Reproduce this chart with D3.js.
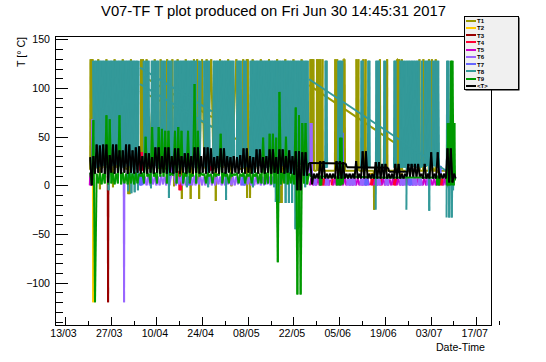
<!DOCTYPE html>
<html lang="en">
<head>
<meta charset="UTF-8">
<title>V07-TF T plot</title>
<script src="https://d3js.org/d3.v7.min.js"></script>
<style>
    body { margin: 0; background: #fff; }
    text { font-family: "Liberation Sans", Arial, sans-serif; fill: #000; }
    .axis path, .axis line { stroke: #000; shape-rendering: crispEdges; }
    .axis .domain { display: none; }
    .trace line { stroke-width: 2; stroke-linecap: butt; }
</style>
</head>
<body>
<script>
// time in days since 10/03/2017 00:00 (UTC); values in deg C
// a path is either [tStart, tStep, [values...]] or [[t, v], [t, v], ...]

const seriesNames  = ["T1", "T2", "T3", "T4", "T5", "T6", "T7", "T8", "T9", "<T>"];
const seriesColors = ["#999900", "#ffcc00", "#990000", "#ff0033", "#cc00cc", "#9966ff", "#6666ff", "#339999", "#009900", "#000000"];

const dateTicks = ["2017-03-13", "2017-03-27", "2017-04-10", "2017-04-24", "2017-05-08",
                   "2017-05-22", "2017-06-05", "2017-06-19", "2017-07-03", "2017-07-17"];
const valueTicks = [-100, -50, 0, 50, 100, 150];

const t1Paths = [
    [[10.7,16],[10.85,129.5],[11.0,17],[11.15,129.5],[11.3,16],[11.45,129.5],[11.6,18],
     [12.4,17],[13.2,129.5],[13.6,17],[13.7,-4],[13.8,17],[14.5,18],[15.7,129.5],[16.5,17],
     [17.6,17],[17.7,-2],[17.8,17],[18.2,129.5],[19.0,18],[20.7,129.5],[21.5,17],
     [22.3,17],[22.4,-9],[22.6,17],[22.8,-9],[22.9,17],[23.2,129.5],[24.0,18],[25.0,17],
     [26.2,17],[26.3,129.5],[26.6,20],[26.9,129.5],[27.0,18],[28.0,129.5],[28.7,17],
     [30.5,129.5],[31.2,18],[32.2,18],[32.3,129.5],[32.4,18],[34.2,17],[34.3,129.5],[34.4,17],
     [35.8,18],[35.9,129.5],[36.0,18],[36.3,18],[36.4,-1],[36.5,18],[37.5,129.5],[38.3,18],
     [38.7,18],[38.8,-14],[38.9,18],[40.0,129.5],[40.8,18],[41.4,18],[41.5,-14],[41.6,18],
     [42.5,129.5],[43.4,18],[43.5,129.5],[43.6,18],[44.0,18],[44.1,-14],[44.2,18],[45.0,129.5],
     [45.7,18],[46.3,18],[46.4,129.5],[46.5,18],[47.8,129.5],[48.5,18],[49.1,18],[49.2,-16],
     [49.3,18],[50.5,129.5],[51.3,18],[53.0,129.5],[53.9,18],[54.0,-1],[54.1,18],[55.5,129.5],
     [56.3,17],[57.5,17],[57.6,129.5],[57.7,18],[58.6,18],[58.7,129.5],[58.8,-13],[59.0,129.5],
     [59.2,18],[59.6,18],[59.7,-13],[59.8,18],[60.5,129.5],[61.3,17],[63.0,129.5],[63.8,18],
     [65.5,129.5],[66.3,17],[68.0,129.5],[68.8,18],[68.9,-18],[69.2,18],[69.4,-18],[69.5,18],
     [70.5,129.5],[71.3,17],[73.0,129.5],[73.8,18],[75.5,129.5],[76.3,17],[77.5,17]],
    [[78.1,15],[78.2,129.5],[78.35,15],[78.5,129.5],[78.65,15],[78.8,129.5],[78.95,15],[79.1,129.5],
     [79.3,15],[80.1,15],[80.2,129.5],[80.45,15],[80.7,129.5],[80.8,15],[81.1,15],[81.2,129.5],
     [81.5,15],[81.9,129.5],[82.0,15],[85.7,15],[85.8,129.5],[86.1,15],[86.4,129.5],[86.6,15],
     [88.2,15],[88.3,129.5],[88.7,129.5],[88.8,15],[92.2,15],[92.3,129.5],[92.6,15],[92.9,129.5],
     [93.0,15],[94.3,15],[94.4,129.5],[94.8,15],[95.1,129.5],[95.2,15],[97.6,15],[97.7,-25],
     [97.8,15],[99.4,15],[99.5,129.5],[99.6,15],[101.6,15],[101.7,129.5],[101.8,15],[104.6,15],
     [104.7,129.5],[105.0,129.5],[105.1,15],[105.4,129.5],[105.8,15],[106.2,129.5],[106.3,15],
     [111.5,15],[111.6,129.5],[111.7,15],[112.7,15],[112.8,129.5],[112.9,15],[114.4,15],
     [114.5,129.5],[114.6,15],[115.3,15],[115.4,129.5],[115.5,15],[116.5,15],[116.6,129.5],
     [116.7,15],[120.2,15],[120.3,-2],[120.4,15]],
    [[26, 114], [48, 70]],
    [[26, 97], [60, 40]],
    [[77.8, 103], [118, 12]]
];

const t2Paths = [
    [[11.55,15],[11.65,-120],[11.75,15]],
    [[96.3,12],[97.8,12]],
    [[105.6,11.5],[106.6,11.5]]
];

const t3Paths = [
    [[16.1,10],[16.2,-120],[16.3,10]]
];

const t4Paths = [
    [[25.9,15],[26.1,34],[26.4,15],[26.7,34],[26.9,15]],
    [[37.9,15],[38.1,-5],[38.3,22],[38.5,-5],[38.6,10]],
    [[47.4,15],[47.6,28],[47.9,15],[48.2,28],[48.3,15]],
    [81.6, 0.25, [0,7,0,7,0]],
    [84.7, 0.25, [0,7,0]],
    [96.7, 0.25, [0,7,0,7]],
    [99.5, 0.25, [0,7,0]],
    [103.6, 0.25, [0,7,0,7,0]],
    [117.9, 0.25, [0,7,0,7,0]]
];

const t5Paths = [
    [[10.6,0],[10.75,13],[10.9,0],[11.05,13],[11.2,0]],
    [78.0, 0.5, [0,7,0,6,0,7,0,7]],
    [82.8, 0.5, [0,7,0,6]],
    [85.2, 0.5, [0,7,0,7,0,6,0,7,0,7,0,6,0,7,0,7,0,6,0,7,0,7,0]],
    [97.6, 0.5, [0,7,0,6]],
    [100.0, 0.5, [0,7,0,7,0,6,0,7]],
    [104.6, 0.5, [0,7,0,6,0,7,0,7,0,6,0,7,0,7,0,6,0,7,0,7,0,6,0,7,0,7,0]],
    [118.9, 0.5, [0,7,0,6,0,7]]
];

const t6Paths = [
    [[11.3,10],[11.4,68],[11.5,10]],
    [[21.0,5],[21.1,-120],[21.2,5]],
    [26.0, 0.5, [0,9,1,9,0,10,0,9,1,9,
                 0,9,0,10,1,9,0,9,0,10,
                 56,9,0,9,1,10,0,9,0,9,
                 1,9,0,10,0,9,1,9,0,9,
                 0,10,1,9,0,9,0,10,1,9,
                 0,9,0,9,1,10,0,9,0,9,
                 1,9,0,10,0,9,1,9,0,9,
                 0,10,1,9,0,9,0,10,1,9,
                 0,9,0,9,1,10,0,9]],
    [[78.1,10],[78.25,64],[78.4,10],[78.55,64],[78.7,10]],
    [79.3, 0.25, [0,7,0,7]],
    [82.8, 0.25, [0,7,0,7,0]],
    [89.4, 0.25, [0,7,0,7,0,7,0,7,0,7,0]],
    [93.5, 0.25, [0,7,0,7,0,7,0]],
    [98.6, 0.25, [0,7,0,7,0]],
    [101.1, 0.25, [0,7,0,7,0]],
    [105.7, 0.25, [0,7,0,7,0,7,0]],
    [109.3, 0.25, [0,7,0,7,0,7,0]],
    [111.3, 0.25, [0,7,0,7,0]],
    [113.9, 0.25, [0,7,0,7,0]]
];

const t7Paths = [
    [[25.9,0],[26.1,12],[26.3,0],[26.5,12],[26.7,0]],
    [40.3, 0.25, [0,9,0,9,0]],
    [57.2, 0.25, [0,9,0,9,0]],
    [[87.5,7],[87.7,54],[87.9,7],[88.05,54],[88.2,7]],
    [94.9, 0.25, [0,7,0,7,0]],
    [108.2, 0.25, [0,7,0,7,0]],
    [[117.6,10],[117.8,20],[118.0,10],[118.2,20]]
];

const t8Paths = [
    [11.6, 0.25, [128,19,128,21,128,18,128,20,128,19,128,22,128,20,128,18,128,21,128,-5,
                  128,19,128,22,128,20,128,18,128,21,128,19,128,20,128,18,128,21,128,19,
                  128,22,128,-6,128,20,128,-8,128,19,128,-7,128,21,128,-5,128]],
    [27.1, 0.25, [128,20,128,19,128,21,128,19,20,-3,
                  128,21,128,18,128,20,128,19,128,18,
                  19,20,128,22,128,19,128,21,22,19,
                  128,-13,128,20,128,19,20,18,128,20,
                  128,18,128,21,128,19,128,21,128,20,
                  128,19,128,-2,128,20,128,19,128,20,
                  128,18,128,21,128,19,20,21,128,19,
                  128]],
    [45.6, 0.25, [128,19,128,20,128,-2,128,20]],
    [48.35, 0.25, [20,128,19,128,21,128,18,128,20,128,19,128,21,128,20,128,-15,128,19,128,20,128,21,128,18,128,20]],
    [55.6, 0.25, [19,128,20,128,21,128,19,20,18,128,
                  20,128,19,21,19,20,19,128,21,128,
                  -2,128,20,128,19,128,18,128,20,128,
                  21,128,19,128,20,128,18,128,21,128,
                  19,128,20,128,19,128,-2,128,-17,128,
                  20,128,-17,128,19,128,20,128,19,128,
                  -18,128,20,128,-18,128,19,128,-18,128,
                  20,128,-45,128,19,128,20,128,21,128,
                  19,128,20,128,-2,128,19,128,18]],
    [82.7, 0.15, [18,128,18,128,18]],
    [86.6, 0.2, [18,128,18,128,18,128,18,128]],
    [93.7, 0.15, [18,128,18,128,18]],
    [95.8, 0.15, [18,128,18,128,18]],
    [98.2, 0.2, [-25,128,18,128,18,128,18]],
    [100.7, 0.15, [18,128,18,128]],
    [103.8, 0.15, [18,128,18,128,18]],
    [105.6, 0.2, [18,128,18,128,18,128]],
    [106.8, 0.2, [18,128,18,128]],
    [107.6, 0.25, [-25,128,19,128,20,128,18,128,19,128,
                   20,128,18,128,19,128,20,19,18,128,
                   20,19,21,128,19,128,20,128,-26,128,
                   19,20,18,128,20,128,19,128,18,128,
                   19]],
    [119.9, 0.2, [-33,128,18,128,-33,18]],
    [121.3, 0.2, [18,-33,18,-5,18]],
    [[26.0, 121], [48.0, 76]],
    [[26.0, 104], [48.0, 60]],
    [[77.8, 109], [120.0, 14.5]]
];

const t9Paths = [
    [10.7, 0.5, [13,1, 67,-120, 12,2, 13,1, 12,2, 72,1, 68,2, 13,1, 12,2, 72,1,
                 13,2, 12,1, 13,2, 12,1, 13,2, 12,9, 13,2, 50,9, 12,2, 60,9,
                 13,2, 60,9, 58,9, 56,2, 56,10, 13,10, 56,2, 60,9, 56,2, 13,9,
                 56,2, 12,9, 104,2, 56,9, 13,10, 12,2, 13,9, 12,2, 13,9, 12,10,
                 53,2, 13,9, 12,2, 13,9, 12,10, 13,2, 12,9, 13,2, 12,9, 13,2,
                 12,9, 13,2, 12,2, 49,1, 13,2, 53,1, 53,2, 49,-79, 96,1, 13,2,
                 50,1, 13,2, 12,1, 80,-112, 72,-112, 64,2, 64,1, 12]],
    [[77.7,12],[78.5,9],[81.0,9],[81.1,0],[81.3,10],[81.5,0],[81.7,9],[86.2,9],[86.3,0],[86.6,10],
     [86.9,0],[87.2,9],[87.3,49],[87.5,0],[87.7,49],[88.0,1],[88.3,9],[100,8],[116.9,8],[117.0,0],
     [117.3,10],[117.6,0],[117.9,9],[119.9,9],[120.1,0],[120.3,64],[120.5,0],[120.7,64],[120.9,0],
     [121.1,64],[121.3,128],[121.5,0],[121.7,128],[121.9,64],[122.1,0],[122.3,64],[122.5,5]]
];

const tAvgPaths = [
    [10.7, 0.5, [29,0, 30,12, 42,13, 41,13, 42,12, 42,3, 31,13, 42,12, 42,13, 36,12,
                 36,13, 42,12, 42,13, 36,12, 39,13, 40,12, 30,13, 33,12, 33,13, 29,12,
                 39,13, 39,12, 30,13, 39,12, 39,13, 30,12, 38,13, 38,12, 30,13, 33,12,
                 33,13, 30,12, 39,13, 39,12, 30,13, 39,12, 39,13, 38,12, 29,13, 30,12,
                 38,13, 38,12, 30,13, 29,12, 30,13, 29,12, 31,13, 38,12, 38,13, 30,12,
                 29,13, 37,12, 37,13, 29,12, 30,13, 37,12, 37,13, 29,12, 37,13, 37,12,
                 30,13, 36,12, 30,11, 35,-5, 35,-5, 34,10, 34,10, 23]],
    [78.2, 0.5, [23,1, 12,7, 12,7, 25,7, 25,7, 12,7, 12,7, 12,7, 25,7, 25,7,
                 24,7, 12,7, 12,7, 12,7, 25,7, 12,7, 35,7, 35,7, 12,7, 12,7,
                 24,7, 24,7, 22,7, 22,7, 12,7, 12,7, 22,7, 22,7, 12,7, 12,9,
                 22,9, 22,9, 22,9, 22,9, 12,7, 22,7, 12,7, 34,7, 12,7, 34,7,
                 12,7, 12,7, 38,3, 38,3, 12,7]],
    [[77.8,23],[89,22.5],[89.3,18.5],[102,18],[102.3,14],[108,14]]
];

const allPaths = [t1Paths, t2Paths, t3Paths, t4Paths, t5Paths, t6Paths, t7Paths, t8Paths, t9Paths, tAvgPaths];

// ---------------------------------------------------------------
const width = 546, height = 362;
const frame = {left: 55, right: 491, top: 36, bottom: 325};

const day0 = Date.UTC(2017, 2, 10);
const toDate = t => new Date(day0 + t * 864e5);
const parseDay = d3.utcParse("%Y-%m-%d");

const x = d3.scaleUtc()
    .domain([toDate(-0.06), toDate(133.52)])
    .range([frame.left, frame.right]);
const y = d3.scaleLinear()
    .domain([-143.4, 153.4])
    .range([frame.bottom, frame.top]);

const svg = d3.select("body").append("svg")
    .attr("width", width)
    .attr("height", height);

svg.append("defs").append("clipPath").attr("id", "frameClip")
    .append("rect")
    .attr("x", frame.left).attr("y", frame.top)
    .attr("width", frame.right - frame.left)
    .attr("height", frame.bottom - frame.top);

// title
svg.append("text")
    .attr("x", 273.5).attr("y", 16)
    .attr("text-anchor", "middle")
    .style("font-size", "14.8px")
    .text("V07-TF T plot produced on Fri Jun 30 14:45:31 2017");

// traces, drawn segment by segment
const toPoints = p => typeof p[0] === "number"
    ? p[2].map((v, i) => [p[0] + i * p[1], v])
    : p;

const plot = svg.append("g").attr("clip-path", "url(#frameClip)");
allPaths.forEach((paths, i) => {
    const segs = paths.map(toPoints).flatMap(pts => d3.pairs(pts));
    plot.append("g")
        .attr("class", "trace")
        .attr("stroke", seriesColors[i])
        .selectAll("line")
        .data(segs)
        .join("line")
        .attr("x1", d => x(toDate(d[0][0])))
        .attr("y1", d => y(d[0][1]))
        .attr("x2", d => x(toDate(d[1][0])))
        .attr("y2", d => y(d[1][1]));
});

// axes
const majorDates = dateTicks.map(parseDay);
const minorDates = majorDates.map(d => d3.utcDay.offset(d, 7));

svg.append("g").attr("class", "axis")
    .attr("transform", `translate(0,${frame.bottom})`)
    .call(d3.axisBottom(x).tickValues(minorDates).tickSizeInner(-4).tickSizeOuter(0).tickFormat(""));

svg.append("g").attr("class", "axis")
    .attr("transform", `translate(0,${frame.bottom})`)
    .call(d3.axisBottom(x).tickValues(majorDates).tickSizeInner(-8).tickSizeOuter(0)
        .tickPadding(4).tickFormat(d3.utcFormat("%d/%m")))
    .selectAll("text").style("font-size", "10.6px").attr("dx", "-2");

const minorValues = d3.range(-140, 151, 10).filter(v => v % 50 !== 0);
svg.append("g").attr("class", "axis")
    .attr("transform", `translate(${frame.left},0)`)
    .call(d3.axisLeft(y).tickValues(minorValues).tickSizeInner(-7.5).tickSizeOuter(0).tickFormat(""));

svg.append("g").attr("class", "axis")
    .attr("transform", `translate(${frame.left},0)`)
    .call(d3.axisLeft(y).tickValues(valueTicks).tickSizeInner(-12.5).tickSizeOuter(0).tickPadding(5))
    .selectAll("text").style("font-size", "10.6px");

// frame
svg.append("rect")
    .attr("x", frame.left).attr("y", frame.top)
    .attr("width", frame.right - frame.left)
    .attr("height", frame.bottom - frame.top)
    .attr("fill", "none").attr("stroke", "#000")
    .style("shape-rendering", "crispEdges");

// axis titles
svg.append("text")
    .attr("x", 485).attr("y", 351)
    .attr("text-anchor", "end")
    .style("font-size", "10.6px")
    .text("Date-Time");

svg.append("text")
    .attr("transform", "translate(25,37) rotate(-90)")
    .attr("text-anchor", "end")
    .style("font-size", "10.6px")
    .text("T [° C]");

// legend
const lg = {x: 464, y: 16, w: 54, h: 73};
svg.append("rect")
    .attr("x", lg.x + 1.5).attr("y", lg.y + 1.5)
    .attr("width", lg.w).attr("height", lg.h)
    .attr("fill", "#000");
svg.append("rect")
    .attr("x", lg.x).attr("y", lg.y)
    .attr("width", lg.w).attr("height", lg.h)
    .attr("fill", "#f0f0f0").attr("stroke", "#000")
    .style("shape-rendering", "crispEdges");

const entry = svg.append("g").selectAll("g")
    .data(seriesNames)
    .join("g")
    .attr("transform", (d, i) => `translate(${lg.x + 2},${lg.y + 4.7 + i * 7.25})`);
entry.append("line")
    .attr("x1", 0).attr("x2", 9.5)
    .attr("stroke", (d, i) => seriesColors[i])
    .attr("stroke-width", 2)
    .style("shape-rendering", "crispEdges");
entry.append("text")
    .attr("x", 11).attr("y", 2.3)
    .style("font-size", "6px")
    .style("font-weight", "bold")
    .text(d => d);
</script>
</body>
</html>
